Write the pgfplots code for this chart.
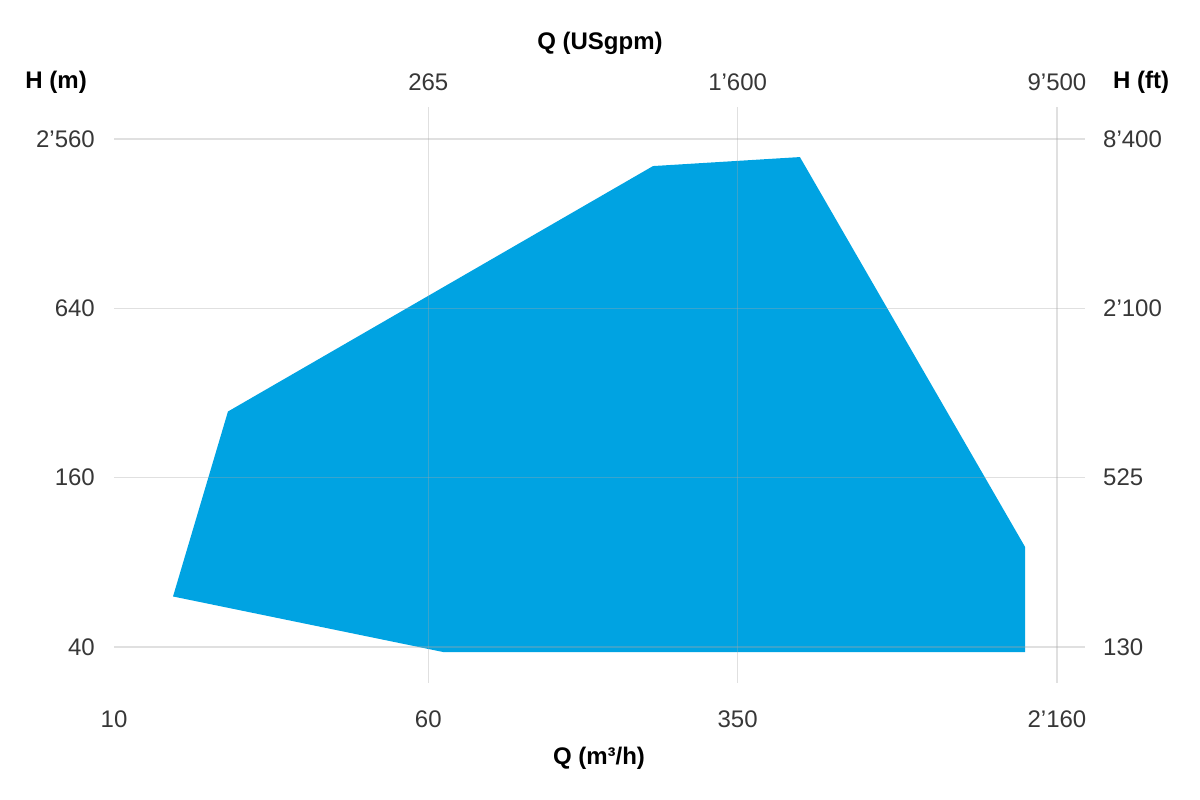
\documentclass[border=0pt]{standalone}
\usepackage{fontspec}
\setmainfont{Liberation Sans}
\usepackage{pgfplots}
\pgfplotsset{compat=1.18}
\definecolor{fillblue}{RGB}{0,163,226}
\definecolor{tickgray}{RGB}{55,55,55}
\newcommand\tfont{\fontsize{24}{28}\selectfont}
\begin{document}
\begin{tikzpicture}[x=1pt,y=1pt]
\tfont
\begin{axis}[
  at={(114pt,117pt)}, anchor=south west,
  scale only axis, width=971pt, height=576pt,
  xmode=log, ymode=log,
  xmin=10, xmax=2535, ymin=29.8, ymax=3327,
  axis line style={draw=none},
  tick style={draw=none},
  minor xtick={}, minor ytick={},
  xtick={60,350,2160}, xticklabels={60,350,2’160},
  extra x ticks={10}, extra x tick labels={10},
  extra x tick style={grid=none},
  ytick={40,160,640,2560}, yticklabels={40,160,640,2’560},
  xmajorgrids, ymajorgrids,
  major grid style={draw=gray!70, opacity=0.35, line width=1.4pt},
  axis on top,
  tick label style={font=\tfont, text=tickgray, inner sep=0pt},
  xticklabel style={anchor=center, yshift=-36pt},
  yticklabel style={anchor=east, xshift=-19pt},
]
\addplot[fill=fillblue, draw=none] coordinates {
  (14.0,60.5) (19.15,275) (216,2051) (499,2208) (1801,90.8)
  (1801,38.4) (65.3,38.4)
} -- cycle;
\end{axis}
\begin{axis}[
  at={(114pt,117pt)}, anchor=south west,
  scale only axis, width=971pt, height=576pt,
  xmode=log, ymode=log,
  xmin=10, xmax=2535, ymin=29.8, ymax=3327,
  axis line style={draw=none},
  tick style={draw=none},
  minor xtick={}, minor ytick={},
  xtick={60,350,2160}, xticklabels={265,1’600,9’500},
  ytick={40,160,640,2560}, yticklabels={130,525,2’100,8’400},
  xticklabel pos=right, yticklabel pos=right,
  tick label style={font=\tfont, text=tickgray, inner sep=0pt},
  xticklabel style={anchor=center, yshift=25pt},
  yticklabel style={anchor=west, xshift=18pt},
]
\end{axis}
\node[anchor=east, font=\tfont\bfseries] at (95,718) {H (m)};
\node[anchor=west, font=\tfont\bfseries] at (1105,718) {H (ft)};
\node[font=\tfont\bfseries] at (600,757) {Q (USgpm)};
\node[font=\tfont\bfseries] at (599,42) {Q (m³/h)};
\pgfresetboundingbox
\path[use as bounding box] (0,0) rectangle (1200,800);
\end{tikzpicture}
\end{document}
